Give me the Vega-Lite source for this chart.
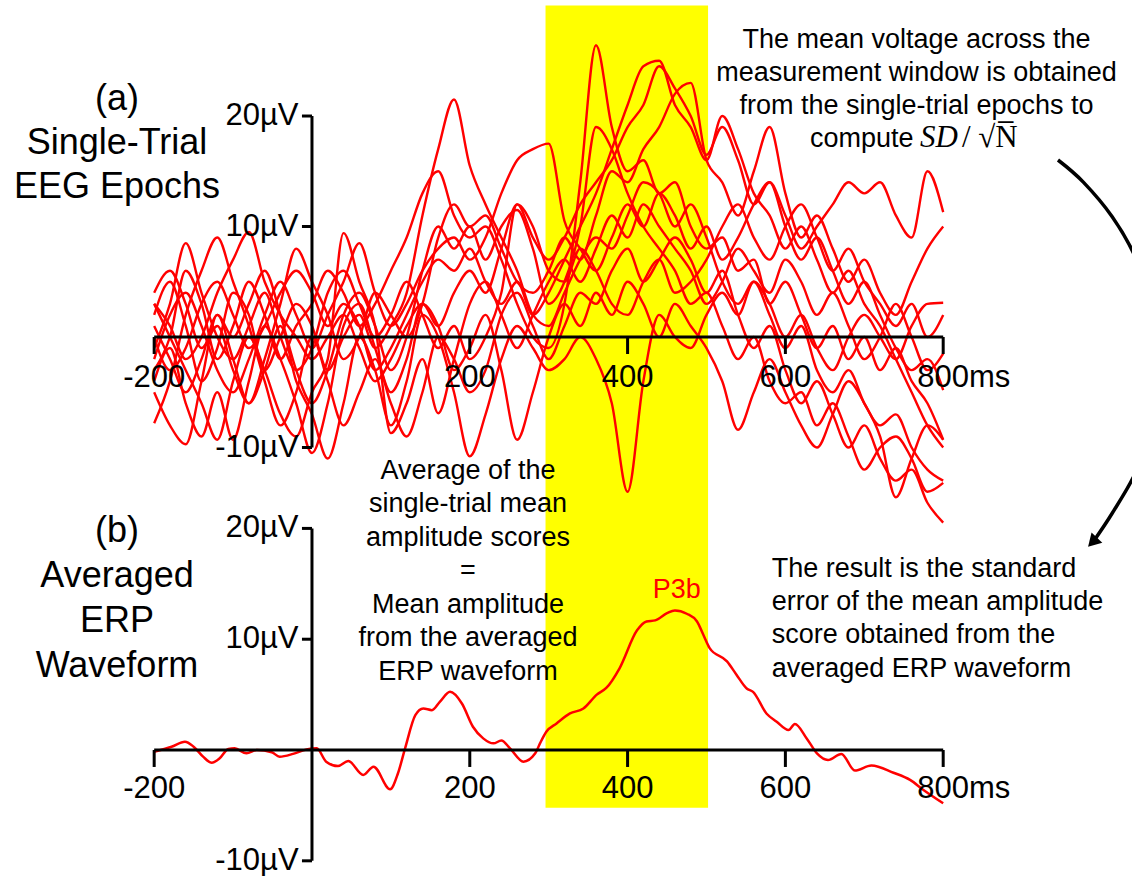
{
 "$schema": "https://vega.github.io/schema/vega-lite/v6.json",
 "width": 1132, "height": 876, "padding": 0,
 "autosize": {"type": "fit", "contains": "padding"},
 "background": "white",
 "config": {"view": {"stroke": null}, "text": {"font": "Liberation Sans", "color": "black"}},
 "datasets": {
  "trials": [
   {"t":-200,"a":2,"b":-3,"c":-5,"d":0,"e":3,"f":-2,"g":4,"h":-7.8,"i":1,"j":-4,"k":3,"l":-1},
   {"t":-180,"a":5,"b":0,"c":-8,"d":-3,"e":1,"f":2,"g":6,"h":-4,"i":-2,"j":-1,"k":0,"l":3},
   {"t":-160,"a":1,"b":6,"c":-9.7,"d":-1,"e":-2,"f":4,"g":3,"h":2,"i":-5,"j":-6,"k":-3,"l":8.5},
   {"t":-140,"a":-4,"b":3,"c":-4,"d":3,"e":0,"f":1,"g":-1,"h":6,"i":-2,"j":-9,"k":-6,"l":4},
   {"t":-120,"a":-1,"b":-2,"c":2,"d":5,"e":4,"f":-3,"g":1,"h":9,"i":2,"j":-5,"k":-9.3,"l":0},
   {"t":-100,"a":4,"b":1,"c":-2,"d":2,"e":7,"f":-5,"g":-3,"h":5,"i":0,"j":-9.3,"k":-4,"l":-2},
   {"t":-80,"a":2,"b":5,"c":-6,"d":-1,"e":9.5,"f":-2,"g":-6,"h":1,"i":3,"j":-4,"k":0,"l":1},
   {"t":-60,"a":-3,"b":2,"c":-3,"d":1,"e":5,"f":2,"g":-2,"h":-4,"i":6,"j":1,"k":-3,"l":4},
   {"t":-40,"a":0,"b":-2,"c":1,"d":4,"e":2,"f":5,"g":3,"h":-8,"i":2,"j":-2,"k":-7,"l":0},
   {"t":-20,"a":3,"b":1,"c":-4,"d":6,"e":0,"f":2,"g":8,"h":-5,"i":-3,"j":-6,"k":-9,"l":-3},
   {"t":0,"a":1,"b":3,"c":-7,"d":4,"e":-2,"f":-1,"g":5,"h":0,"i":-6,"j":-10.5,"k":-5,"l":-1},
   {"t":20,"a":-3,"b":6,"c":-11,"d":1,"e":0,"f":2,"g":2,"h":-4,"i":-3,"j":-6,"k":-2,"l":4},
   {"t":40,"a":0,"b":4,"c":-6,"d":3,"e":2,"f":5,"g":-2,"h":-8,"i":2,"j":1,"k":9.4,"l":6},
   {"t":60,"a":2,"b":1,"c":0,"d":1,"e":-1,"f":8.5,"g":0,"h":-5,"i":4,"j":3,"k":5,"l":3},
   {"t":80,"a":-1,"b":3,"c":-3,"d":-3,"e":-4,"f":4,"g":4,"h":-2,"i":1,"j":-1,"k":1,"l":0},
   {"t":100,"a":1,"b":6,"c":-8,"d":-1,"e":-2,"f":1,"g":2,"h":-6,"i":-3,"j":-5,"k":-8.7,"l":2},
   {"t":120,"a":4,"b":9,"c":-4,"d":2,"e":1,"f":3,"g":0,"h":-9,"i":0,"j":-2,"k":-6,"l":5},
   {"t":140,"a":11,"b":13,"c":2,"d":5,"e":3,"f":6,"g":3,"h":-5,"i":6,"j":3,"k":-2,"l":2},
   {"t":160,"a":17,"b":15,"c":0,"d":7,"e":1,"f":8,"g":9,"h":0,"i":10,"j":1,"k":-6.9,"l":-1},
   {"t":180,"a":21.5,"b":11,"c":-5,"d":6,"e":4,"f":9,"g":12,"h":-2,"i":8,"j":-3,"k":-2,"l":1},
   {"t":200,"a":15.5,"b":9,"c":-10.8,"d":8,"e":6,"f":7,"g":10,"h":-5,"i":10,"j":-1,"k":3,"l":-2},
   {"t":220,"a":12,"b":10,"c":-7,"d":5,"e":4,"f":9,"g":11,"h":-3,"i":7,"j":2,"k":5,"l":0},
   {"t":240,"a":9,"b":7,"c":-2,"d":3,"e":8,"f":13,"g":8,"h":2,"i":10,"j":-3,"k":2,"l":4},
   {"t":260,"a":6,"b":3,"c":1,"d":5,"e":12,"f":16,"g":5,"h":4,"i":11.5,"j":-9.3,"k":-1,"l":12},
   {"t":280,"a":2,"b":0,"c":-1,"d":2,"e":9,"f":17,"g":4,"h":1,"i":8,"j":-5,"k":2,"l":10},
   {"t":300,"a":1,"b":-1,"c":-3,"d":4,"e":7,"f":17.5,"g":6,"h":-2,"i":3,"j":0,"k":5,"l":6},
   {"t":320,"a":4,"b":3,"c":-2,"d":7,"e":9,"f":10.5,"g":9,"h":1,"i":5,"j":3,"k":7,"l":5},
   {"t":340,"a":7,"b":14,"c":0,"d":10,"e":12,"f":8,"g":7,"h":4,"i":10,"j":1,"k":5,"l":8},
   {"t":360,"a":9,"b":26.4,"c":-2,"d":13,"e":14,"f":6,"g":11,"h":3,"i":19,"j":4,"k":8,"l":6},
   {"t":380,"a":8,"b":19,"c":-6,"d":17,"e":16,"f":9,"g":15,"h":6,"i":17,"j":2,"k":11,"l":3},
   {"t":400,"a":11,"b":15,"c":-14,"d":21,"e":19,"f":12,"g":14,"h":8,"i":13,"j":5,"k":9,"l":2},
   {"t":420,"a":14,"b":16,"c":-4,"d":24.5,"e":21,"f":10,"g":17,"h":5,"i":10,"j":3,"k":12,"l":5},
   {"t":440,"a":13,"b":13,"c":2,"d":25,"e":24.5,"f":13,"g":19,"h":7,"i":8,"j":0,"k":10,"l":7},
   {"t":460,"a":10,"b":14,"c":0,"d":21,"e":22.5,"f":11,"g":22,"h":9,"i":6,"j":3,"k":8,"l":4},
   {"t":480,"a":12,"b":10,"c":-1,"d":19,"e":20,"f":8,"g":23,"h":7,"i":3,"j":1,"k":6,"l":5},
   {"t":500,"a":9,"b":8,"c":2,"d":16,"e":16.5,"f":10,"g":16,"h":4,"i":4,"j":-1,"k":3,"l":7},
   {"t":520,"a":5,"b":9,"c":4,"d":20,"e":19,"f":7,"g":14,"h":6,"i":1,"j":-4,"k":5,"l":10},
   {"t":540,"a":3,"b":6,"c":2,"d":17,"e":16,"f":9,"g":11,"h":2,"i":-2,"j":-8.4,"k":8,"l":12},
   {"t":560,"a":5,"b":7,"c":5,"d":13,"e":12,"f":12,"g":15,"h":-1,"i":0,"j":-5,"k":6,"l":9},
   {"t":580,"a":2,"b":3,"c":3,"d":11,"e":14,"f":14,"g":19,"h":1,"i":-4,"j":-2,"k":4,"l":7},
   {"t":600,"a":-1,"b":5,"c":0,"d":8,"e":10,"f":11,"g":13,"h":-3,"i":-6,"j":-5,"k":7,"l":10},
   {"t":620,"a":1,"b":2,"c":2,"d":10,"e":7,"f":8,"g":9,"h":-6,"i":-5,"j":-8,"k":5,"l":12},
   {"t":640,"a":-3,"b":-1,"c":-1,"d":7,"e":9,"f":10,"g":11,"h":-4,"i":-8,"j":-10,"k":2,"l":9},
   {"t":660,"a":-5,"b":1,"c":-3,"d":4,"e":6,"f":12,"g":8,"h":-7,"i":-6,"j":-7,"k":4,"l":6},
   {"t":680,"a":-3,"b":-2,"c":0,"d":6,"e":3,"f":14,"g":5,"h":-10,"i":-9,"j":-4,"k":1,"l":8},
   {"t":700,"a":-6,"b":0,"c":2,"d":3,"e":5,"f":13,"g":7,"h":-8,"i":-12,"j":-6,"k":-2,"l":5},
   {"t":720,"a":-8,"b":-3,"c":0,"d":1,"e":2,"f":14,"g":4,"h":-11,"i":-10,"j":-9,"k":0,"l":3},
   {"t":740,"a":-7,"b":-1,"c":-2,"d":-2,"e":-1,"f":11,"g":2,"h":-13,"i":-9,"j":-14.5,"k":3,"l":1},
   {"t":760,"a":-10,"b":-4,"c":1,"d":-5,"e":-3,"f":9,"g":5,"h":-12,"i":-11,"j":-11,"k":0,"l":3},
   {"t":780,"a":-12,"b":-6,"c":3,"d":-8,"e":-2,"f":15,"g":8,"h":-15,"i":-14,"j":-8,"k":-3,"l":0},
   {"t":800,"a":-13,"b":-9.3,"c":3.1,"d":-10,"e":-4.8,"f":11.3,"g":10,"h":-16.8,"i":-13.2,"j":-9.3,"k":-1.5,"l":2}
  ],
  "erp": [
   {"t":-200,"v":-0.15},{"t":-178,"v":0.3},{"t":-161,"v":0.75},{"t":-150,"v":0.3},{"t":-138,"v":-0.6},
   {"t":-127,"v":-1.15},{"t":-117,"v":-0.75},{"t":-106,"v":0.1},{"t":-98,"v":0.15},{"t":-83,"v":-0.3},
   {"t":-70,"v":0},{"t":-51,"v":-0.2},{"t":-41,"v":-0.6},{"t":-24,"v":-0.35},{"t":-7,"v":0.05},
   {"t":6,"v":0.15},{"t":18,"v":-1.05},{"t":33,"v":-1.45},{"t":46,"v":-1.0},{"t":65,"v":-2.25},
   {"t":78,"v":-1.5},{"t":99,"v":-3.55},{"t":109,"v":-2.1},{"t":118,"v":0.15},{"t":131,"v":3.15},
   {"t":141,"v":3.75},{"t":152,"v":3.6},{"t":162,"v":4.35},{"t":175,"v":5.25},{"t":190,"v":4.2},
   {"t":204,"v":2.1},{"t":217,"v":1.05},{"t":230,"v":0.6},{"t":240,"v":0.85},{"t":251,"v":0.15},
   {"t":268,"v":-1.05},{"t":283,"v":-0.3},{"t":289,"v":0.6},{"t":297,"v":1.65},{"t":310,"v":2.4},
   {"t":327,"v":3.3},{"t":344,"v":3.75},{"t":361,"v":5.0},{"t":373,"v":5.6},{"t":390,"v":7.4},
   {"t":412,"v":10.8},{"t":424,"v":11.6},{"t":435,"v":11.7},{"t":450,"v":12.35},{"t":460,"v":12.6},
   {"t":475,"v":12.3},{"t":488,"v":11.6},{"t":496,"v":10.4},{"t":504,"v":9.2},{"t":526,"v":8.0},
   {"t":538,"v":6.8},{"t":551,"v":5.55},{"t":559,"v":5.25},{"t":576,"v":3.3},{"t":589,"v":2.55},
   {"t":604,"v":1.8},{"t":612,"v":2.35},{"t":627,"v":1.05},{"t":640,"v":-0.3},{"t":654,"v":-0.9},
   {"t":671,"v":-0.35},{"t":688,"v":-1.85},{"t":709,"v":-1.4},{"t":737,"v":-2.05},{"t":758,"v":-2.7},
   {"t":775,"v":-3.6},{"t":800,"v":-4.8}
  ],
  "xticks": [{"t":-200,"lab":"-200"},{"t":200,"lab":"200"},{"t":400,"lab":"400"},{"t":600,"lab":"600"},{"t":800,"lab":"800ms"}],
  "yticks": [{"v":20,"lab":"20µV"},{"v":10,"lab":"10µV"},{"v":-10,"lab":"-10µV"}],
  "xaxis": [{"t0":-200,"t1":800}],
  "yaxis": [{"v0":-10,"v1":20}],
  "arrow": [
   {"i":0,"t":945.5,"v":16.02},{"i":1,"t":977.6,"v":14.02},{"i":2,"t":1014.2,"v":10.89},
   {"i":3,"t":1042.8,"v":7.36},{"i":4,"t":1062.4,"v":3.52},{"i":5,"t":1073.5,"v":-2.53},
   {"i":6,"t":1062.4,"v":-8.59},{"i":7,"t":1042.8,"v":-12.43},{"i":8,"t":1014.2,"v":-15.95},
   {"i":9,"t":991.1,"v":-18.43}
  ]
 },
 "resolve": {"scale": {"y": "independent"}},
 "layer": [
  {"data": {"values": [{"t0":296,"t1":502,"v0":67.2,"v1":-5.2}]},
   "mark": {"type": "rect", "color": "#ffff00"},
   "encoding": {"x": {"field": "t0", "type": "quantitative", "scale": {"domain": [-395.4, 1039.3], "nice": false, "zero": false}, "axis": null}, "x2": {"field": "t1"},
    "y": {"field": "v0", "type": "quantitative", "scale": {"domain": [-11.37, 67.69], "nice": false, "zero": false}, "axis": null}, "y2": {"field": "v1"}}},

  {"data": {"name": "trials"},
   "transform": [{"fold": ["a","b","c","d","e","f","g","h","i","j","k","l"], "as": ["trial","v"]}],
   "mark": {"type": "line", "color": "#ff0000", "strokeWidth": 2.4, "interpolate": "monotone"},
   "encoding": {"x": {"field": "t", "type": "quantitative", "scale": {"domain": [-395.4, 1039.3], "nice": false, "zero": false}, "axis": null},
    "y": {"field": "v", "type": "quantitative", "scale": {"domain": [-48.78, 30.5], "nice": false, "zero": false}, "axis": null},
    "detail": {"field": "trial", "type": "nominal"}}},

  {"data": {"name": "xaxis"},
   "mark": {"type": "rule", "color": "black", "strokeWidth": 3},
   "encoding": {"x": {"field": "t0", "type": "quantitative", "scale": {"domain": [-395.4, 1039.3], "nice": false, "zero": false}, "axis": null}, "x2": {"field": "t1"},
    "y": {"datum": 0, "type": "quantitative", "scale": {"domain": [-48.78, 30.5], "nice": false, "zero": false}, "axis": null}}},
  {"data": {"name": "xticks"},
   "mark": {"type": "rule", "color": "black", "strokeWidth": 3},
   "encoding": {"x": {"field": "t", "type": "quantitative", "scale": {"domain": [-395.4, 1039.3], "nice": false, "zero": false}, "axis": null},
    "y": {"datum": 0, "type": "quantitative", "scale": {"domain": [-48.78, 30.5], "nice": false, "zero": false}, "axis": null}, "y2": {"datum": -1.54}}},
  {"data": {"name": "xticks"}, "transform": [{"filter": "datum.t < 800"}],
   "mark": {"type": "text", "fontSize": 31, "align": "center", "baseline": "middle"},
   "encoding": {"x": {"field": "t", "type": "quantitative", "scale": {"domain": [-395.4, 1039.3], "nice": false, "zero": false}, "axis": null},
    "y": {"datum": -3.71, "type": "quantitative", "scale": {"domain": [-48.78, 30.5], "nice": false, "zero": false}, "axis": null}, "text": {"field": "lab"}}},
  {"data": {"name": "xticks"}, "transform": [{"filter": "datum.t == 800"}],
   "mark": {"type": "text", "fontSize": 31, "align": "left", "baseline": "middle", "dx": -26},
   "encoding": {"x": {"field": "t", "type": "quantitative", "scale": {"domain": [-395.4, 1039.3], "nice": false, "zero": false}, "axis": null},
    "y": {"datum": -3.71, "type": "quantitative", "scale": {"domain": [-48.78, 30.5], "nice": false, "zero": false}, "axis": null}, "text": {"field": "lab"}}},
  {"data": {"name": "yaxis"},
   "mark": {"type": "rule", "color": "black", "strokeWidth": 3},
   "encoding": {"x": {"datum": 0, "type": "quantitative", "scale": {"domain": [-395.4, 1039.3], "nice": false, "zero": false}, "axis": null},
    "y": {"field": "v0", "type": "quantitative", "scale": {"domain": [-48.78, 30.5], "nice": false, "zero": false}, "axis": null}, "y2": {"field": "v1"}}},
  {"data": {"name": "yticks"},
   "mark": {"type": "rule", "color": "black", "strokeWidth": 3},
   "encoding": {"x": {"datum": -12.7, "type": "quantitative", "scale": {"domain": [-395.4, 1039.3], "nice": false, "zero": false}, "axis": null}, "x2": {"datum": 0},
    "y": {"field": "v", "type": "quantitative", "scale": {"domain": [-48.78, 30.5], "nice": false, "zero": false}, "axis": null}}},
  {"data": {"name": "yticks"},
   "mark": {"type": "text", "fontSize": 31, "align": "right", "baseline": "middle"},
   "encoding": {"x": {"datum": -17, "type": "quantitative", "scale": {"domain": [-395.4, 1039.3], "nice": false, "zero": false}, "axis": null},
    "y": {"field": "v", "type": "quantitative", "scale": {"domain": [-48.78, 30.5], "nice": false, "zero": false}, "axis": null}, "text": {"field": "lab"}}},

  {"data": {"name": "erp"},
   "mark": {"type": "line", "color": "#ff0000", "strokeWidth": 2.5, "interpolate": "monotone"},
   "encoding": {"x": {"field": "t", "type": "quantitative", "scale": {"domain": [-395.4, 1039.3], "nice": false, "zero": false}, "axis": null},
    "y": {"field": "v", "type": "quantitative", "scale": {"domain": [-11.37, 67.69], "nice": false, "zero": false}, "axis": null}}},

  {"data": {"name": "xaxis"},
   "mark": {"type": "rule", "color": "black", "strokeWidth": 3},
   "encoding": {"x": {"field": "t0", "type": "quantitative", "scale": {"domain": [-395.4, 1039.3], "nice": false, "zero": false}, "axis": null}, "x2": {"field": "t1"},
    "y": {"datum": 0, "type": "quantitative", "scale": {"domain": [-11.37, 67.69], "nice": false, "zero": false}, "axis": null}}},
  {"data": {"name": "xticks"},
   "mark": {"type": "rule", "color": "black", "strokeWidth": 3},
   "encoding": {"x": {"field": "t", "type": "quantitative", "scale": {"domain": [-395.4, 1039.3], "nice": false, "zero": false}, "axis": null},
    "y": {"datum": 0, "type": "quantitative", "scale": {"domain": [-11.37, 67.69], "nice": false, "zero": false}, "axis": null}, "y2": {"datum": -1.53}}},
  {"data": {"name": "xticks"}, "transform": [{"filter": "datum.t < 800"}],
   "mark": {"type": "text", "fontSize": 31, "align": "center", "baseline": "middle"},
   "encoding": {"x": {"field": "t", "type": "quantitative", "scale": {"domain": [-395.4, 1039.3], "nice": false, "zero": false}, "axis": null},
    "y": {"datum": -3.52, "type": "quantitative", "scale": {"domain": [-11.37, 67.69], "nice": false, "zero": false}, "axis": null}, "text": {"field": "lab"}}},
  {"data": {"name": "xticks"}, "transform": [{"filter": "datum.t == 800"}],
   "mark": {"type": "text", "fontSize": 31, "align": "left", "baseline": "middle", "dx": -26},
   "encoding": {"x": {"field": "t", "type": "quantitative", "scale": {"domain": [-395.4, 1039.3], "nice": false, "zero": false}, "axis": null},
    "y": {"datum": -3.52, "type": "quantitative", "scale": {"domain": [-11.37, 67.69], "nice": false, "zero": false}, "axis": null}, "text": {"field": "lab"}}},
  {"data": {"name": "yaxis"},
   "mark": {"type": "rule", "color": "black", "strokeWidth": 3},
   "encoding": {"x": {"datum": 0, "type": "quantitative", "scale": {"domain": [-395.4, 1039.3], "nice": false, "zero": false}, "axis": null},
    "y": {"field": "v0", "type": "quantitative", "scale": {"domain": [-11.37, 67.69], "nice": false, "zero": false}, "axis": null}, "y2": {"field": "v1"}}},
  {"data": {"name": "yticks"},
   "mark": {"type": "rule", "color": "black", "strokeWidth": 3},
   "encoding": {"x": {"datum": -12.7, "type": "quantitative", "scale": {"domain": [-395.4, 1039.3], "nice": false, "zero": false}, "axis": null}, "x2": {"datum": 0},
    "y": {"field": "v", "type": "quantitative", "scale": {"domain": [-11.37, 67.69], "nice": false, "zero": false}, "axis": null}}},
  {"data": {"name": "yticks"},
   "mark": {"type": "text", "fontSize": 31, "align": "right", "baseline": "middle"},
   "encoding": {"x": {"datum": -17, "type": "quantitative", "scale": {"domain": [-395.4, 1039.3], "nice": false, "zero": false}, "axis": null},
    "y": {"field": "v", "type": "quantitative", "scale": {"domain": [-11.37, 67.69], "nice": false, "zero": false}, "axis": null}, "text": {"field": "lab"}}},

  {"data": {"values": [{"txt": ["(a)", "Single-Trial", "EEG Epochs"], "t": -247.1, "v": 20.54}]},
   "mark": {"type": "text", "fontSize": 36, "align": "center", "baseline": "alphabetic", "lineHeight": 44},
   "encoding": {"x": {"field": "t", "type": "quantitative", "scale": {"domain": [-395.4, 1039.3], "nice": false, "zero": false}, "axis": null},
    "y": {"field": "v", "type": "quantitative", "scale": {"domain": [-48.78, 30.5], "nice": false, "zero": false}, "axis": null}, "text": {"field": "txt"}}},
  {"data": {"values": [{"txt": ["(b)", "Averaged", "ERP", "Waveform"], "t": -247.1, "v": 18.77}]},
   "mark": {"type": "text", "fontSize": 36, "align": "center", "baseline": "alphabetic", "lineHeight": 45},
   "encoding": {"x": {"field": "t", "type": "quantitative", "scale": {"domain": [-395.4, 1039.3], "nice": false, "zero": false}, "axis": null},
    "y": {"field": "v", "type": "quantitative", "scale": {"domain": [-11.37, 67.69], "nice": false, "zero": false}, "axis": null}, "text": {"field": "txt"}}},
  {"data": {"values": [{"txt": ["The mean voltage across the", "measurement window is obtained", "from the single-trial epochs to"], "t": 766.2, "v": 26.13}]},
   "mark": {"type": "text", "fontSize": 27, "align": "center", "baseline": "alphabetic", "lineHeight": 32.8},
   "encoding": {"x": {"field": "t", "type": "quantitative", "scale": {"domain": [-395.4, 1039.3], "nice": false, "zero": false}, "axis": null},
    "y": {"field": "v", "type": "quantitative", "scale": {"domain": [-48.78, 30.5], "nice": false, "zero": false}, "axis": null}, "text": {"field": "txt"}}},
  {"data": {"values": [{"txt": "compute", "t": 631.2, "v": 17.22}]},
   "mark": {"type": "text", "fontSize": 27, "align": "left", "baseline": "alphabetic"},
   "encoding": {"x": {"field": "t", "type": "quantitative", "scale": {"domain": [-395.4, 1039.3], "nice": false, "zero": false}, "axis": null},
    "y": {"field": "v", "type": "quantitative", "scale": {"domain": [-48.78, 30.5], "nice": false, "zero": false}, "axis": null}, "text": {"field": "txt"}}},
  {"data": {"values": [{"txt": "SD", "t": 770.6, "v": 17.22}]},
   "mark": {"type": "text", "fontSize": 31, "font": "Liberation Serif", "fontStyle": "italic", "align": "left", "baseline": "alphabetic"},
   "encoding": {"x": {"field": "t", "type": "quantitative", "scale": {"domain": [-395.4, 1039.3], "nice": false, "zero": false}, "axis": null},
    "y": {"field": "v", "type": "quantitative", "scale": {"domain": [-48.78, 30.5], "nice": false, "zero": false}, "axis": null}, "text": {"field": "txt"}}},
  {"data": {"values": [{"txt": "/ √N̅", "t": 823.8, "v": 17.22}]},
   "mark": {"type": "text", "fontSize": 31, "font": "Liberation Serif", "align": "left", "baseline": "alphabetic"},
   "encoding": {"x": {"field": "t", "type": "quantitative", "scale": {"domain": [-395.4, 1039.3], "nice": false, "zero": false}, "axis": null},
    "y": {"field": "v", "type": "quantitative", "scale": {"domain": [-48.78, 30.5], "nice": false, "zero": false}, "axis": null}, "text": {"field": "txt"}}},
  {"data": {"values": [{"txt": ["Average of the", "single-trial mean", "amplitude scores", "=", "Mean amplitude", "from the averaged", "ERP waveform"], "t": 197.7, "v": -12.85}]},
   "mark": {"type": "text", "fontSize": 27, "align": "center", "baseline": "alphabetic", "lineHeight": 33.5},
   "encoding": {"x": {"field": "t", "type": "quantitative", "scale": {"domain": [-395.4, 1039.3], "nice": false, "zero": false}, "axis": null},
    "y": {"field": "v", "type": "quantitative", "scale": {"domain": [-48.78, 30.5], "nice": false, "zero": false}, "axis": null}, "text": {"field": "txt"}}},
  {"data": {"values": [{"txt": ["The result is the standard", "error of the mean amplitude", "score obtained from the", "averaged ERP waveform"], "t": 582.6, "v": 15.64}]},
   "mark": {"type": "text", "fontSize": 27, "align": "left", "baseline": "alphabetic", "lineHeight": 33.3},
   "encoding": {"x": {"field": "t", "type": "quantitative", "scale": {"domain": [-395.4, 1039.3], "nice": false, "zero": false}, "axis": null},
    "y": {"field": "v", "type": "quantitative", "scale": {"domain": [-11.37, 67.69], "nice": false, "zero": false}, "axis": null}, "text": {"field": "txt"}}},
  {"data": {"values": [{"txt": "P3b", "t": 462.2, "v": 13.69}]},
   "mark": {"type": "text", "fontSize": 27, "align": "center", "baseline": "alphabetic", "color": "#ff0000"},
   "encoding": {"x": {"field": "t", "type": "quantitative", "scale": {"domain": [-395.4, 1039.3], "nice": false, "zero": false}, "axis": null},
    "y": {"field": "v", "type": "quantitative", "scale": {"domain": [-11.37, 67.69], "nice": false, "zero": false}, "axis": null}, "text": {"field": "txt"}}},

  {"data": {"name": "arrow"},
   "mark": {"type": "line", "color": "black", "strokeWidth": 3.5, "interpolate": "cardinal", "clip": true},
   "encoding": {"x": {"field": "t", "type": "quantitative", "scale": {"domain": [-395.4, 1039.3], "nice": false, "zero": false}, "axis": null},
    "y": {"field": "v", "type": "quantitative", "scale": {"domain": [-48.78, 30.5], "nice": false, "zero": false}, "axis": null},
    "order": {"field": "i", "type": "quantitative"}}},
  {"data": {"name": "arrow"}, "transform": [{"filter": "datum.i == 9"}],
   "mark": {"type": "point", "shape": "triangle", "filled": true, "color": "black", "opacity": 1, "size": 220, "angle": 223.5},
   "encoding": {"x": {"field": "t", "type": "quantitative", "scale": {"domain": [-395.4, 1039.3], "nice": false, "zero": false}, "axis": null},
    "y": {"field": "v", "type": "quantitative", "scale": {"domain": [-48.78, 30.5], "nice": false, "zero": false}, "axis": null}}}
 ]
}
